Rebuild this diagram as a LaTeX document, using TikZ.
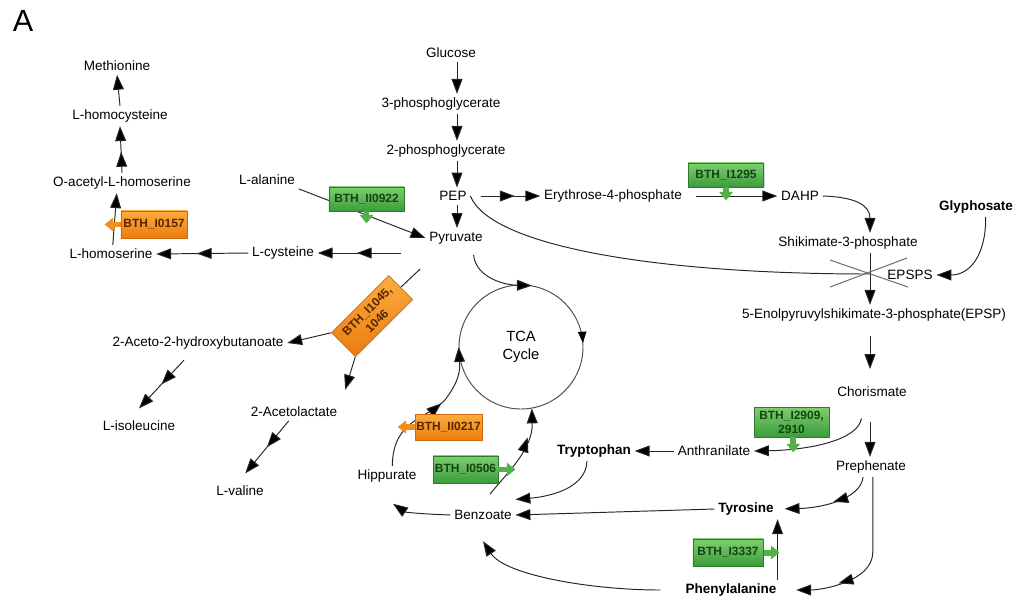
\documentclass[tikz,border=0pt]{standalone}
\usepackage{fontspec}
\setmainfont{Liberation Sans}
\usetikzlibrary{arrows.meta,shadows,decorations.markings}

\definecolor{gtop}{RGB}{128,206,112}
\definecolor{gbot}{RGB}{58,156,58}
\definecolor{gedge}{RGB}{44,124,44}
\definecolor{gtxt}{RGB}{18,68,18}
\definecolor{gfill}{RGB}{82,178,72}
\definecolor{otop}{RGB}{252,172,62}
\definecolor{obot}{RGB}{236,124,14}
\definecolor{oedge}{RGB}{206,104,8}
\definecolor{otxt}{RGB}{88,38,0}
\definecolor{ofill}{RGB}{242,142,30}

\tikzset{
  lbl/.style={font=\fontsize{7.7}{9}\selectfont, inner sep=2pt},
  blbl/.style={font=\fontsize{7.7}{9}\selectfont\bfseries, inner sep=2pt},
  ln/.style={draw=black!85, line width=0.55pt},
  arr/.style={ln, -{Triangle[length=8.5pt,width=6.2pt,fill=black]}},
  arr2/.style={arr, postaction={decorate},
    decoration={markings, mark=at position #1 with {\arrow{Triangle[length=8.5pt,width=6.2pt,fill=black]}}}},
  arr2/.default=0.55,
  genebox/.style={draw, line width=0.4pt, inner sep=0pt, align=center,
    font=\fontsize{6.8}{8}\selectfont\bfseries,
    drop shadow={opacity=0.3, shadow xshift=0.6pt, shadow yshift=-0.6pt}},
  gbox/.style={genebox, top color=gtop, bottom color=gbot, draw=gedge, text=gtxt},
  obox/.style={genebox, top color=otop, bottom color=obot, draw=oedge, text=otxt},
  gfat/.style={draw=gfill, line width=3.4pt, -{Triangle[length=4.8pt,width=7.5pt]}},
  ofat/.style={draw=ofill, line width=3.4pt, -{Triangle[length=4.8pt,width=7.5pt]}},
}

\begin{document}
\begin{tikzpicture}[x=0.02cm, y=-0.02cm]
    \useasboundingbox (0,0) rectangle (1016,599);

    \node[font=\fontsize{17.4}{20}\selectfont, inner sep=0pt] (pnl) at (23,21) {A};

    % Metabolites
    \foreach \n/\x/\y/\t in {met/117/66/Methionine, hcy/120/116/L-homocysteine,
        oah/122/183/O-acetyl-L-homoserine, hse/111/254/L-homoserine,
        cys/283/253/L-cysteine, ala/267/180/L-alanine,
        glc/451/53/Glucose, pg3/441/104/3-phosphoglycerate,
        pg2/446/151/2-phosphoglycerate, pep/453/196/PEP, pyr/456/238/Pyruvate,
        e4p/613/196/Erythrose-4-phosphate, dahp/800/196/DAHP,
        s3p/848/243/Shikimate-3-phosphate, epsps/910/275/EPSPS,
        epsp/874/315/5-Enolpyruvylshikimate-3-phosphate(EPSP),
        cho/872/392/Chorismate, pre/871/467/Prephenate, ant/714/451/Anthranilate,
        bza/483/515/Benzoate, hip/387/476/Hippurate,
        ahb/198/343/2-Aceto-2-hydroxybutanoate, ile/139/426/L-isoleucine,
        acl/294/412/2-Acetolactate, val/240/491/L-valine} {
        \node[lbl] (\n) at (\x,\y) {\t};
    }
    \foreach \n/\x/\y/\t in {gly/976/207/Glyphosate, trp/594/451/Tryptophan,
        tyr/746/509/Tyrosine, phe/731/590/Phenylalanine} {
        \node[blbl] (\n) at (\x,\y) {\t};
    }

    % TCA cycle
    \node[circle, minimum size=70.6pt, inner sep=0pt, align=center,
      font=\fontsize{8.4}{10}\selectfont] (tca) at (521,347) {TCA\\Cycle};
    \draw[ln, draw=black!70, postaction={decorate}, decoration={markings,
      mark=at position 0.99 with {\arrow{Triangle[length=6.5pt,width=4.8pt,fill=black,color=black]}}}]
      (tca.center) circle[radius=62];

    \node[obox, rotate=45, minimum width=46pt, minimum height=19pt] (g1045)
      at (372,316) {BTH\_I1045,\\1046};

    % Glycolysis
    \coordinate (gcol) at (457,0);
    \foreach \a/\b in {glc/pg3, pg3/pg2, pg2/pep, pep/pyr} {
        \draw[arr] (\a.south -| gcol) -- (\b.north -| gcol);
    }
    \draw[arr2=0.57] ([xshift=6pt]pep.east) -- (e4p.west);
    \draw[arr, shorten <=6pt] (e4p.east) -- (dahp.west);

    % Amino acids from pyruvate
    \draw[arr] (ala.south east) -- (pyr.west);
    \draw[arr2=0.53] ([xshift=-14pt]pyr.west |- cys.east) -- (cys.east);
    \draw[arr2=0.56] (cys.west) -- (hse.east);
    \draw[arr] ([xshift=1pt]hse.north) -- ([xshift=-3pt]oah.south);
    \draw[arr2=0.45] (oah.north) -- (hcy.south);
    \draw[arr] (hcy.north) -- (met.south);
    \draw[ln] ([shift={(-3pt,-12pt)}]pyr.south west) -- (g1045.east);
    \draw[arr] (g1045.north west) -- (ahb.east);
    \draw[arr, shorten >=8pt] (g1045.south west) -- (acl.north east);
    \draw[arr2=0.5] ([shift={(-8pt,-4pt)}]ahb.south) -- ([yshift=5pt]ile.north);
    \draw[arr2=0.5] ([xshift=-3pt]acl.south) -- ([shift={(3pt,5pt)}]val.north);

    % Shikimate pathway
    \coordinate (xc) at (870,274);
    \draw[arr] (dahp.east) .. controls (855,197) and (870,205) .. (s3p.north -| xc);
    \draw[arr] (s3p.south -| xc) -- (epsp.north -| xc);
    \draw[ln] (pep.east) .. controls (490,245) and (650,274) .. (xc);
    \draw[arr] ([xshift=5.5pt]gly.south) .. controls (986,255) and (970,275) .. (epsps.east);
    \draw[draw=black!55, line width=0.6pt] (830,260) -- (908,287);
    \draw[draw=black!55, line width=0.6pt] (830,287) -- (907,258);
    \draw[arr, shorten <=6pt, shorten >=8pt] (epsp.south -| xc) -- (cho.north -| xc);
    \draw[arr, shorten <=12pt] (cho.south -| xc) -- (pre.north -| xc);
    \draw[arr] ([shift={(-6pt,-10pt)}]cho.south) .. controls (858,440) and (810,450) .. (ant.east);
    \draw[arr] (ant.west) -- (trp.east);
    \draw[arr2=0.42, shorten >=4pt] ([xshift=-4.5pt]pre.south) .. controls (860,500) and (820,508) .. (tyr.east);
    \draw[arr2=0.68, shorten >=9pt] ([xshift=1pt]pre.south) -- ++(0,75)
      .. controls +(0,30) and +(40,0) .. (phe.east);
    \draw[arr] (phe.north -| tyr.south east) -- (tyr.south east);

    % Benzoate
    \draw[arr] (tyr.west) -- (bza.east);
    \draw[arr] ([xshift=-4pt]trp.south) .. controls (586,490) and (545,497) .. ([yshift=4pt]bza.north east);
    \draw[arr, shorten <=12pt] (phe.west) .. controls (590,590) and (505,575) .. ([yshift=-10pt]bza.south);
    \draw[arr] (bza.west) .. controls (420,514) and (405,512) .. ([shift={(3.4pt,-10pt)}]hip.south);
    \draw[arr2=0.58] ([xshift=3pt]hip.north) .. controls (393,420) and (425,420) .. (445,400)
      .. controls (460,380) and (460,370) .. (tca.west);
    \draw[arr2=0.7] ([shift={(4pt,7pt)}]bza.north) .. controls (505,475) and (533,450) .. (tca.-80);
    \draw[arr] ([shift={(10pt,-4pt)}]pyr.south) .. controls (476,278) and (505,285) .. (tca.80);

    % Gene boxes
    \node[obox, minimum width=37.6pt, minimum height=15.4pt] (g0157) at (154,224.5) {BTH\_I0157};
    \node[gbox, minimum width=42.7pt, minimum height=13.7pt] (g0922) at (366.5,199) {BTH\_II0922};
    \node[gbox, minimum width=43pt, minimum height=13.7pt] (g1295) at (726,175) {BTH\_I1295};
    \node[gbox, minimum width=42.7pt, minimum height=17pt] (g2909) at (791.5,422) {BTH\_I2909,\\2910};
    \node[obox, minimum width=38pt, minimum height=14.8pt] (g0217) at (448.5,427) {BTH\_II0217};
    \node[gbox, minimum width=37pt, minimum height=15.4pt] (g0506) at (465.5,469.5) {BTH\_I0506};
    \node[gbox, minimum width=40pt, minimum height=15.4pt] (g3337) at (728,552.5) {BTH\_I3337};

    % Gene arrows
    \draw[ofat] (g0157.west) -- ++(-16,0);
    \draw[gfat] (g0922.south) -- ++(0,12);
    \draw[gfat] (g1295.south) -- ++(0,13);
    \draw[gfat] ([xshift=1pt]g2909.south) -- ++(0,15);
    \draw[ofat] (g0217.west) -- ++(-17,0);
    \draw[gfat] (g0506.east) -- ++(17,0);
    \draw[gfat] (g3337.east) -- ++(16,0);
\end{tikzpicture}
\end{document}
